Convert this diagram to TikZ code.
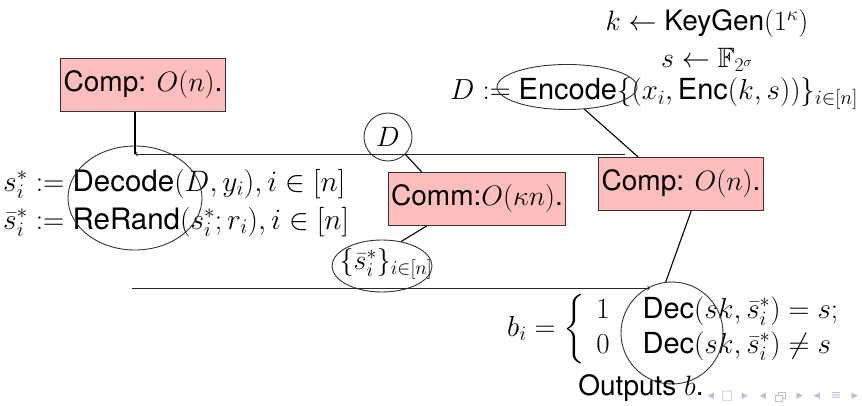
\RequirePackage{fix-cm}
\documentclass[tikz,border=0pt]{standalone}
\usepackage{amsmath,amssymb}
\usepackage[no-math]{fontspec}
\setmainfont{TeX Gyre Heros}
\newfontfamily\navfont{DejaVu Sans}
\usetikzlibrary{arrows,shapes.geometric}
\definecolor{boxpink}{RGB}{255,190,190}
\definecolor{navcol}{RGB}{190,190,220}
\tikzset{
  costbox/.style={draw=black!80, fill=boxpink, line width=0.9pt, inner sep=3pt, minimum height=53pt},
  ring/.style={draw=black!80, line width=0.9pt},
  conn/.style={draw=black, line width=1.1pt},
  flow/.style={draw=black!85, line width=0.9pt, -to},
  txt/.style={inner sep=0pt},
  bigtxt/.style={inner sep=0pt, font=\fontsize{29.5}{34}\selectfont},
}
\begin{document}
\begin{tikzpicture}[x=1pt,y=-1pt,font=\fontsize{28}{33}\selectfont]
\useasboundingbox (0,0) rectangle (862,406);
% top right formulas
\node[txt] (kg) at (707,24) {$k \leftarrow \text{KeyGen}(1^\kappa)$};
\node[txt] (sf) at (707,60) {$s \leftarrow \mathbb{F}_{2^\sigma}$};
\node[txt, font=\fontsize{29}{34}\selectfont] (enc) at (654,94) {$D := \text{Encode}\{(x_i, \text{Enc}(k,s))\}_{i\in[n]}$};
\node[ring, ellipse, minimum width=140pt, minimum height=45pt] (encE) at (567,87) {};
% boxes
\node[costbox, minimum width=158pt] (compL) at (143,85) {Comp: $O(n)$.};
\node[costbox, minimum width=149pt] (compR) at (681,184) {Comp: $O(n)$.};
\node[costbox, minimum width=173pt] (comm) at (477,199) {Comm:$O(\kappa n)$.};
% left formulas
\node[bigtxt, anchor=west] (dec) at (3,184) {$s_i^* := \text{Decode}(D, y_i), i \in [n]$};
\node[bigtxt, anchor=west] (rr) at (3,222) {$\bar{s}_i^* := \text{ReRand}(s_i^*; r_i), i \in [n]$};
\node[ring, ellipse, minimum width=134pt, minimum height=104pt] (decE) at (135,198) {};
% D circle
\node[ring, circle, minimum size=48pt, inner sep=0pt] (Dc) at (388,137) {$D$};
% s bar set
\node[ring, ellipse, minimum width=100pt, minimum height=52pt, inner sep=0pt] (sset) at (382,266) {};
\node[txt] (ssetT) at (386,264) {$\{\bar{s}_i^*\}_{i\in[n]}$};
% output formula
\node[txt, anchor=west, font=\fontsize{29}{35}\selectfont] (bi) at (507,329) {$b_i = \biggl\{\begin{array}{@{\hspace{11pt}}l@{\hspace{33pt}}l@{}} 1 & \text{Dec}(sk, \bar{s}_i^*) = s;\\ 0 & \text{Dec}(sk, \bar{s}_i^*) \neq s\end{array}$};
\node[ring, circle, minimum size=102pt, inner sep=0pt] (decC) at (672,333) {};
\node[txt] (out) at (641,388) {Outputs $b$.};
% arrows
\coordinate (a1s) at (625,154);
\coordinate (a1e) at (135,154);
\draw[flow] (a1s) -- (a1e);
\coordinate (a2s) at (132,288);
\coordinate (a2e) at (650,288);
\draw[flow] (a2s) -- (a2e);
% connectors
\draw[conn] (compL.south -| a1e) -- (a1e);
\draw[conn] (encE.-52) -- ([xshift=40pt]compR.north west);
\draw[conn] (Dc.-45) -- ([xshift=34pt]comm.north west);
\draw[conn] ([xshift=39pt]comm.south west) -- (sset.52);
\draw[conn] ([xshift=93pt]compR.south west) -- (decC.97);
% nav symbols
\begin{scope}[navcol, font=\navfont\fontsize{13}{13}\selectfont]
\node[txt] (n1) at (711,396) {◂};
\node[txt] (n2) at (727,396) {□};
\node[txt] (n3) at (745,396) {▸};
\node[txt] (n4) at (763,396) {◂};
\coordinate (n5) at (780,396);
\draw[line width=0.8pt] ([shift={(-5,-1)}]n5) rectangle ([shift={(2,5)}]n5);
\draw[line width=0.8pt] ([shift={(-2,-1)}]n5) -- ([shift={(-2,-4)}]n5) -- ([shift={(5,-4)}]n5) -- ([shift={(5,2)}]n5) -- ([shift={(2,2)}]n5);
\node[txt] (n6) at (800,396) {▸};
\node[txt] (n7) at (817,396) {◂};
\node[txt] (n8) at (836,396) {≡};
\node[txt] (n9) at (855,396) {▸};
\end{scope}
\end{tikzpicture}
\end{document}
